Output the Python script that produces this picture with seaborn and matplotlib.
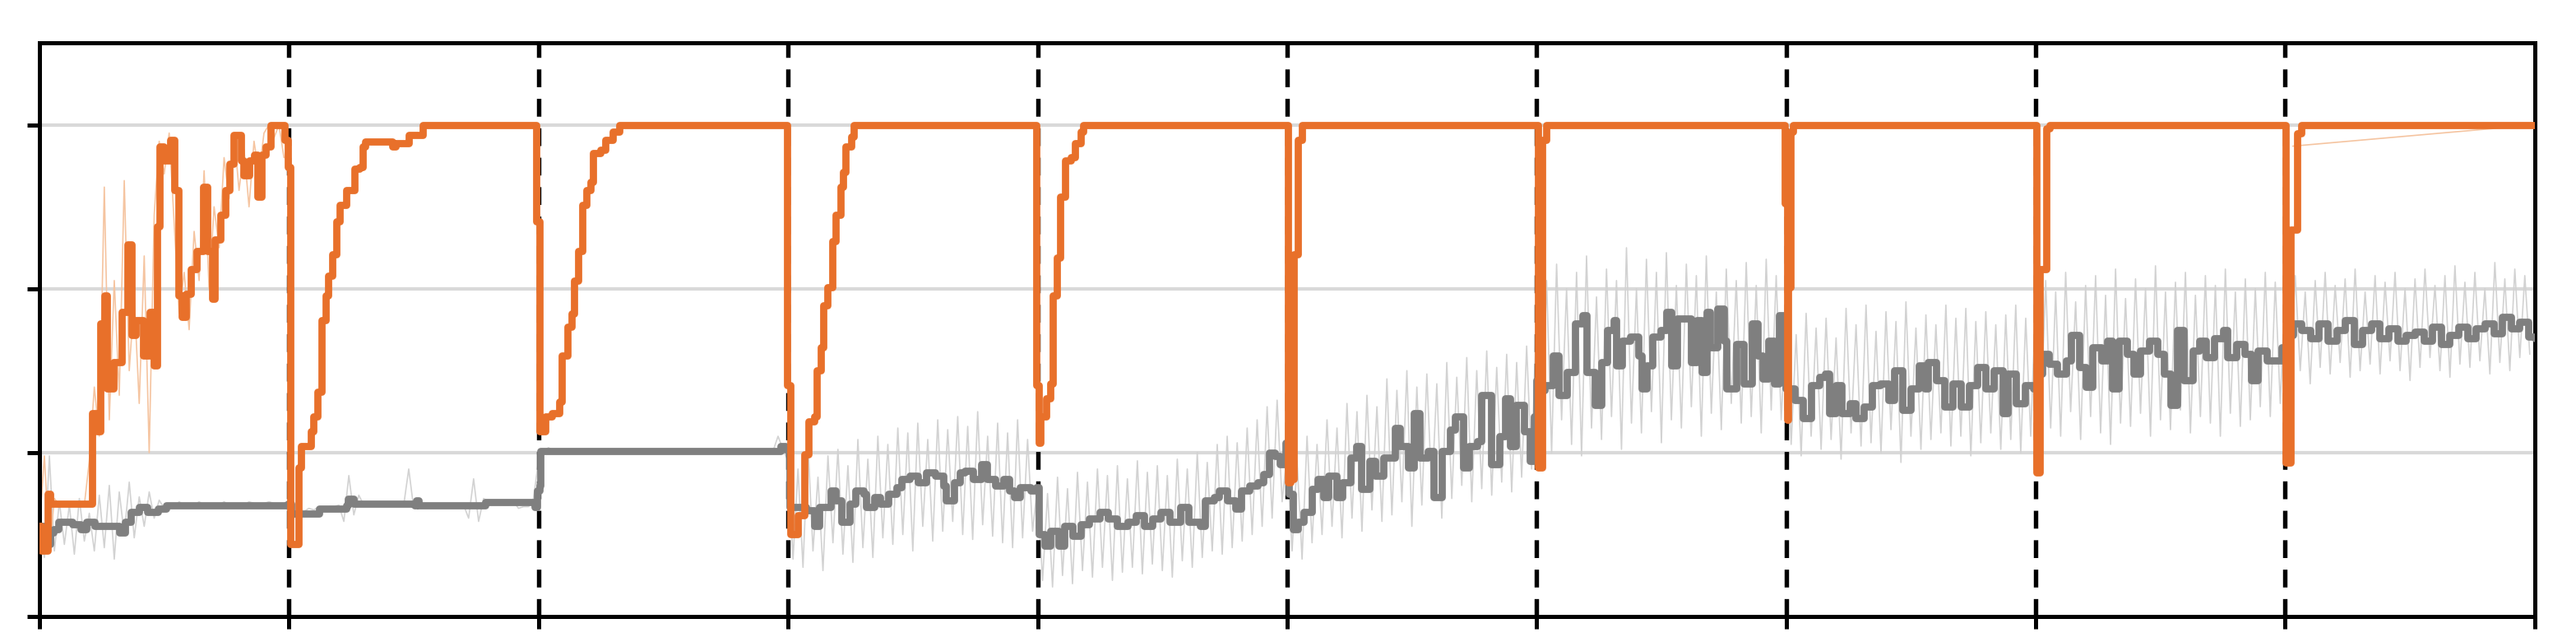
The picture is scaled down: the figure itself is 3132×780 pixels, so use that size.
import numpy as np
import pandas as pd
import matplotlib
matplotlib.use("Agg")
import matplotlib.pyplot as plt
import seaborn as sns

# ten tasks of 1000 steps each, task switches at every 1000 steps
task_len = 1000
n_tasks = 10
raw_every = 20

# orange: accuracy on the current task (step, value)
orange_acc = [
    (0, 0.55), (6, 0.40), (28, 0.40), (33, 0.75), (44, 0.69), (204, 0.69), (210, 1.24),
    (232, 1.13), (243, 1.79), (260, 1.96), (271, 1.39), (298, 1.55), (331, 1.86), (354, 2.27),
    (370, 1.72), (387, 1.81), (414, 1.59), (442, 1.86), (459, 1.53), (470, 2.38), (481, 2.87),
    (497, 2.78), (525, 2.91), (541, 2.60), (558, 1.96), (569, 1.83), (586, 1.97), (608, 2.12),
    (630, 2.23), (657, 2.62), (674, 2.23), (691, 1.94), (702, 2.30), (724, 2.45), (746, 2.60),
    (762, 2.76), (779, 2.94), (807, 2.78), (818, 2.69), (840, 2.78), (862, 2.82), (873, 2.56),
    (890, 2.82), (906, 2.87), (928, 3.00), (972, 3.00), (983, 2.91), (995, 2.74),
    (1005, 0.44), (1022, 0.44), (1038, 0.91), (1049, 1.04), (1087, 1.13), (1098, 1.22),
    (1115, 1.37), (1131, 1.81), (1148, 1.96), (1158, 2.08), (1175, 2.21), (1191, 2.41),
    (1202, 2.51), (1230, 2.60), (1262, 2.73), (1284, 2.74), (1295, 2.87), (1306, 2.90),
    (1415, 2.87), (1426, 2.89), (1481, 2.94), (1536, 3.00), (1984, 3.00), (1990, 2.41),
    (2005, 1.13), (2027, 1.22), (2055, 1.24), (2082, 1.31), (2093, 1.59), (2115, 1.77),
    (2132, 1.85), (2143, 2.05), (2159, 2.23), (2176, 2.51), (2192, 2.60), (2209, 2.65),
    (2220, 2.83), (2247, 2.85), (2269, 2.91), (2297, 2.96), (2324, 3.00), (2989, 3.00), (2995, 1.41),
    (3008, 0.50), (3020, 0.50), (3038, 0.62), (3066, 0.99), (3082, 1.19), (3104, 1.22),
    (3115, 1.50), (3132, 1.64), (3143, 1.90), (3159, 2.01), (3176, 2.29), (3192, 2.45),
    (3209, 2.62), (3220, 2.71), (3231, 2.87), (3253, 2.93), (3264, 3.00), (3989, 3.00), (3995, 1.41),
    (4005, 1.06), (4011, 1.22), (4033, 1.33), (4050, 1.42), (4061, 1.96), (4078, 2.19),
    (4089, 2.56), (4111, 2.78), (4133, 2.80), (4150, 2.89), (4172, 2.96), (4183, 3.00), (4990, 3.00),
    (5005, 0.82), (5014, 0.84), (5028, 2.21), (5044, 2.91), (5061, 3.00), (5989, 3.00),
    (6005, 0.91), (6016, 0.91), (6022, 2.91), (6039, 3.00), (6989, 3.00), (6995, 2.52),
    (7003, 1.20), (7006, 2.01), (7017, 2.96), (7028, 3.00), (7989, 3.00),
    (8003, 0.88), (8017, 2.12), (8044, 2.98), (8055, 3.00), (8989, 3.00),
    (9003, 0.94), (9021, 2.36), (9047, 2.95), (9065, 3.00), (10000, 3.00),
]

# orange raw (thin) pieces: first task and the tail of the last one
orange_raw_task0 = [
    0.55, 0.98, 0.40, 0.72, 0.68, 0.70, 0.68, 0.70, 0.69, 0.68, 0.95, 1.40, 1.10, 2.62, 1.20,
    2.05, 1.35, 2.66, 1.50, 1.95, 1.30, 2.20, 1.00, 2.45, 2.90, 2.70, 2.95, 2.40, 1.85, 2.10,
    1.75, 2.35, 2.05, 2.72, 2.00, 2.50, 2.25, 2.80, 2.55, 2.95, 2.60, 2.85, 2.50, 2.90, 2.70,
    2.95, 3.00, 2.92, 3.00, 2.80,
]
orange_raw_tail = [(9030, 2.87), (10000, 3.00)]

# gray: smoothed metric on all tasks (step, value)
gray_mean = [
    (0, 0.55), (22, 0.44), (44, 0.51), (55, 0.53), (77, 0.58), (110, 0.58), (133, 0.56),
    (166, 0.53), (188, 0.58), (221, 0.55), (254, 0.55), (298, 0.55), (320, 0.51), (343, 0.58),
    (365, 0.64), (398, 0.67), (431, 0.64), (475, 0.66), (508, 0.68), (750, 0.68), (995, 0.69),
    (1010, 0.63), (1120, 0.66), (1230, 0.68), (1235, 0.72), (1260, 0.69), (1503, 0.68),
    (1510, 0.71), (1520, 0.68), (1743, 0.68), (1787, 0.70), (1984, 0.67), (1995, 0.77),
    (2003, 0.80), (2008, 1.01), (2960, 1.01), (2970, 1.04), (2990, 1.02),
    (3005, 0.67), (3049, 0.67), (3071, 0.65), (3104, 0.55), (3126, 0.67), (3170, 0.77),
    (3192, 0.71), (3214, 0.58), (3247, 0.69), (3269, 0.77), (3302, 0.75), (3313, 0.67),
    (3346, 0.73), (3368, 0.69), (3401, 0.75), (3434, 0.79), (3456, 0.84), (3489, 0.86),
    (3522, 0.82), (3555, 0.88), (3588, 0.86), (3621, 0.80), (3632, 0.71), (3665, 0.82),
    (3687, 0.88), (3709, 0.89), (3742, 0.84), (3775, 0.93), (3797, 0.84), (3830, 0.80),
    (3863, 0.84), (3885, 0.77), (3907, 0.73), (3929, 0.79), (3973, 0.77), (3995, 0.79),
    (4006, 0.50), (4028, 0.43), (4050, 0.52), (4083, 0.43), (4106, 0.55), (4139, 0.49),
    (4172, 0.56), (4206, 0.60), (4250, 0.64), (4283, 0.60), (4317, 0.55), (4361, 0.58),
    (4394, 0.62), (4428, 0.55), (4461, 0.60), (4494, 0.64), (4528, 0.58), (4572, 0.67),
    (4606, 0.58), (4650, 0.55), (4672, 0.71), (4706, 0.73), (4728, 0.77), (4761, 0.71),
    (4794, 0.66), (4817, 0.77), (4850, 0.80), (4883, 0.82), (4906, 0.87), (4928, 1.00),
    (4950, 0.98), (4972, 0.93), (4994, 1.06),
    (5006, 0.75), (5022, 0.53), (5044, 0.58), (5066, 0.64), (5099, 0.78), (5122, 0.84),
    (5144, 0.73), (5166, 0.86), (5199, 0.73), (5221, 0.82), (5254, 0.97), (5276, 1.04),
    (5298, 0.78), (5331, 0.95), (5354, 0.86), (5387, 0.97), (5431, 1.15), (5453, 1.04),
    (5486, 0.91), (5508, 1.24), (5530, 0.97), (5564, 1.01), (5586, 0.73), (5619, 1.01),
    (5652, 1.14), (5674, 1.22), (5707, 0.91), (5729, 1.04), (5762, 1.07), (5779, 1.35),
    (5807, 1.35), (5818, 0.93), (5851, 1.10), (5873, 1.33), (5895, 1.04), (5917, 1.29),
    (5950, 1.13), (5972, 0.95), (5989, 1.22), (5998, 1.44),
    (6010, 1.38), (6033, 1.41), (6066, 1.59), (6088, 1.35), (6122, 1.49), (6155, 1.79),
    (6182, 1.84), (6199, 1.49), (6232, 1.29), (6260, 1.55), (6282, 1.75), (6309, 1.81),
    (6320, 1.53), (6343, 1.68), (6376, 1.71), (6409, 1.59), (6420, 1.39), (6442, 1.53),
    (6464, 1.71), (6497, 1.75), (6519, 1.86), (6541, 1.53), (6564, 1.82), (6597, 1.82),
    (6619, 1.55), (6641, 1.81), (6663, 1.49), (6680, 1.86), (6696, 1.64), (6724, 1.88),
    (6751, 1.68), (6762, 1.39), (6785, 1.39), (6801, 1.66), (6829, 1.42), (6862, 1.79),
    (6884, 1.59), (6906, 1.45), (6928, 1.68), (6950, 1.42), (6972, 1.84), (6989, 1.75), (6998, 1.39),
    (7011, 1.39), (7033, 1.32), (7067, 1.21), (7100, 1.41), (7133, 1.46), (7156, 1.48),
    (7172, 1.24), (7200, 1.41), (7222, 1.24), (7256, 1.30), (7278, 1.21), (7311, 1.28),
    (7344, 1.41), (7378, 1.42), (7411, 1.32), (7433, 1.50), (7467, 1.26), (7500, 1.39),
    (7533, 1.53), (7556, 1.39), (7567, 1.55), (7600, 1.44), (7633, 1.28), (7667, 1.42),
    (7700, 1.28), (7733, 1.41), (7767, 1.52), (7800, 1.39), (7833, 1.50), (7867, 1.24),
    (7889, 1.48), (7922, 1.30), (7956, 1.41), (7989, 1.39),
    (8010, 1.48), (8026, 1.60), (8052, 1.54), (8087, 1.48), (8122, 1.56), (8140, 1.72),
    (8175, 1.52), (8201, 1.40), (8227, 1.64), (8262, 1.56), (8288, 1.68), (8305, 1.39),
    (8332, 1.68), (8366, 1.60), (8393, 1.48), (8419, 1.62), (8454, 1.68), (8489, 1.60),
    (8515, 1.48), (8541, 1.29), (8567, 1.75), (8593, 1.44), (8628, 1.62), (8654, 1.68),
    (8681, 1.58), (8716, 1.70), (8750, 1.75), (8768, 1.58), (8803, 1.66), (8838, 1.60),
    (8864, 1.44), (8890, 1.62), (8925, 1.56), (8960, 1.56), (8986, 1.64),
    (9010, 1.72), (9030, 1.79), (9065, 1.75), (9100, 1.70), (9135, 1.79), (9170, 1.68),
    (9205, 1.75), (9240, 1.81), (9274, 1.66), (9309, 1.75), (9344, 1.79), (9379, 1.70),
    (9414, 1.76), (9449, 1.68), (9484, 1.72), (9519, 1.74), (9554, 1.68), (9589, 1.77),
    (9624, 1.66), (9659, 1.72), (9694, 1.77), (9729, 1.70), (9764, 1.76), (9799, 1.79),
    (9834, 1.73), (9869, 1.83), (9904, 1.76), (9939, 1.80), (9974, 1.71), (10000, 1.70),
]

# gray raw values, one every 20 steps, one list per task
gray_raw = [
    [0.55, 0.36, 0.98, 0.40, 0.70, 0.44, 0.68, 0.38, 0.72, 0.46, 0.63, 0.40, 0.74, 0.42, 0.80,
     0.35, 0.76, 0.50, 0.82, 0.48, 0.73, 0.55, 0.76, 0.60, 0.71, 0.66, 0.69, 0.67, 0.70, 0.68,
     0.69, 0.68, 0.70, 0.68, 0.69, 0.69, 0.68, 0.70, 0.68, 0.69, 0.69, 0.68, 0.70, 0.69, 0.68,
     0.69, 0.70, 0.69, 0.68, 0.69],
    [0.63, 0.60, 0.66, 0.64, 0.66, 0.65, 0.67, 0.66, 0.67, 0.67, 0.68, 0.58, 0.86, 0.62, 0.74,
     0.68, 0.69, 0.68, 0.68, 0.68, 0.68, 0.68, 0.68, 0.68, 0.90, 0.66, 0.68, 0.68, 0.68, 0.68,
     0.68, 0.68, 0.68, 0.68, 0.68, 0.68, 0.60, 0.84, 0.58, 0.72, 0.70, 0.69, 0.69, 0.68, 0.68,
     0.70, 0.66, 0.67, 0.67, 0.72],
    [0.95, 1.01, 1.03, 1.01, 1.01, 1.02, 1.01, 1.01, 1.01, 1.01, 1.01, 1.01, 1.01, 1.01, 1.01,
     1.01, 1.01, 1.01, 1.01, 1.01, 1.01, 1.01, 1.01, 1.01, 1.01, 1.01, 1.01, 1.01, 1.01, 1.01,
     1.01, 1.01, 1.01, 1.01, 1.01, 1.01, 1.01, 1.01, 1.01, 1.01, 1.01, 1.01, 1.01, 1.01, 1.01,
     1.01, 1.01, 1.01, 1.10, 1.02],
    [0.95, 0.35, 0.90, 0.30, 1.05, 0.40, 0.85, 0.28, 0.98, 0.45, 1.02, 0.38, 0.92, 0.33, 1.08,
     0.42, 0.96, 0.36, 1.10, 0.48, 1.05, 0.44, 1.15, 0.50, 1.12, 0.40, 1.18, 0.55, 1.08, 0.46,
     1.20, 0.52, 1.14, 0.58, 1.22, 0.50, 1.16, 0.47, 1.25, 0.56, 1.10, 0.49, 1.18, 0.45, 1.12,
     0.42, 1.20, 0.48, 1.08, 0.52],
    [0.80, 0.22, 0.75, 0.18, 0.85, 0.25, 0.78, 0.20, 0.88, 0.28, 0.82, 0.24, 0.90, 0.30, 0.86,
     0.22, 0.92, 0.27, 0.84, 0.30, 0.95, 0.26, 0.88, 0.32, 0.92, 0.28, 0.86, 0.24, 0.96, 0.34,
     0.90, 0.30, 1.00, 0.36, 0.94, 0.40, 1.05, 0.38, 1.10, 0.42, 1.06, 0.46, 1.15, 0.50, 1.20,
     0.55, 1.28, 0.60, 1.32, 0.70],
    [1.00, 0.40, 0.95, 0.35, 1.10, 0.45, 1.05, 0.50, 1.20, 0.55, 1.15, 0.48, 1.30, 0.60, 1.25,
     0.52, 1.35, 0.65, 1.28, 0.58, 1.45, 0.62, 1.38, 0.70, 1.50, 0.55, 1.40, 0.68, 1.48, 0.75,
     1.42, 0.60, 1.55, 0.72, 1.46, 0.80, 1.58, 0.70, 1.50, 0.78, 1.62, 0.74, 1.52, 0.82, 1.60,
     0.76, 1.55, 0.85, 1.65, 0.90],
    [1.90, 1.10, 2.05, 1.00, 2.15, 1.20, 2.00, 1.05, 2.10, 0.98, 2.20, 1.15, 1.95, 1.08, 2.12,
     1.22, 2.05, 1.02, 2.25, 1.18, 2.00, 1.12, 2.18, 1.25, 2.10, 1.06, 2.22, 1.20, 2.02, 1.15,
     2.15, 1.28, 2.08, 1.10, 2.20, 1.24, 1.98, 1.14, 2.12, 1.30, 2.05, 1.18, 2.16, 1.22, 2.02,
     1.12, 2.18, 1.26, 2.08, 1.20],
    [1.80, 1.05, 1.72, 0.98, 1.85, 1.10, 1.76, 1.02, 1.82, 1.08, 1.70, 0.96, 1.88, 1.12, 1.78,
     1.04, 1.90, 1.06, 1.74, 1.00, 1.86, 1.14, 1.80, 0.94, 1.92, 1.10, 1.76, 1.02, 1.84, 1.08,
     1.78, 1.12, 1.90, 1.04, 1.82, 1.10, 1.88, 0.98, 1.80, 1.06, 1.86, 1.12, 1.78, 1.02, 1.84,
     1.08, 1.90, 1.00, 1.82, 1.10],
    [1.95, 1.20, 2.05, 1.15, 1.98, 1.10, 2.10, 1.25, 1.92, 1.08, 2.02, 1.22, 2.08, 1.12, 1.96,
     1.05, 2.12, 1.18, 1.94, 1.16, 2.06, 1.24, 2.00, 1.10, 2.14, 1.20, 1.98, 1.14, 2.04, 1.26,
     2.10, 1.12, 1.96, 1.22, 2.08, 1.18, 2.02, 1.10, 2.12, 1.24, 1.98, 1.16, 2.06, 1.20, 2.00,
     1.28, 2.10, 1.22, 2.04, 1.30],
    [2.00, 1.45, 2.08, 1.50, 1.98, 1.42, 2.05, 1.52, 2.10, 1.48, 2.02, 1.55, 2.06, 1.46, 2.12,
     1.50, 1.98, 1.54, 2.08, 1.48, 2.04, 1.56, 2.10, 1.50, 2.00, 1.44, 2.06, 1.52, 2.12, 1.58,
     2.02, 1.50, 2.08, 1.46, 2.14, 1.54, 2.04, 1.52, 2.10, 1.56, 2.00, 1.48, 2.16, 1.55, 2.06,
     1.50, 2.12, 1.58, 2.08, 1.60],
]

# build tables
rows = []
for t, vals in enumerate(gray_raw):
    for i, v in enumerate(vals):
        rows.append({"step": t * task_len + i * raw_every, "value": v})
gray_raw_df = pd.DataFrame(rows)

orows = [{"step": i * raw_every, "value": v, "piece": 0} for i, v in enumerate(orange_raw_task0)]
orows += [{"step": s, "value": v, "piece": 1} for s, v in orange_raw_tail]
orange_raw_df = pd.DataFrame(orows)

gray_df = pd.DataFrame(gray_mean, columns=["step", "value"])
orange_df = pd.DataFrame(orange_acc, columns=["step", "value"])

# Plotting
sns.set_style("white")
fig = plt.figure(figsize=(10.44, 2.603), dpi=300)
ax = fig.add_axes([0.0153, 0.0397, 0.9687, 0.8924])

orange = "#e8702a"
gray = "#7f7f7f"

for y in [1, 2, 3]:
    ax.axhline(y, color="#d9d9d9", lw=1.0, zorder=0)

sns.lineplot(data=gray_raw_df, x="step", y="value", ax=ax, color="#d2d2d2", lw=0.4,
             estimator=None, sort=False, zorder=1)
sns.lineplot(data=orange_raw_df, x="step", y="value", units="piece", ax=ax, color="#f5c4a0",
             lw=0.4, estimator=None, sort=False, zorder=1)

for k in range(1, n_tasks):
    ax.axvline(k * task_len, color="black", lw=1.3, ls=(0, (4.0, 2.6)), zorder=2)

sns.lineplot(data=gray_df, x="step", y="value", ax=ax, color=gray, lw=2.1,
             drawstyle="steps-post", estimator=None, sort=False, zorder=3)
sns.lineplot(data=orange_df, x="step", y="value", ax=ax, color=orange, lw=2.1,
             drawstyle="steps-post", estimator=None, sort=False, zorder=4)

ax.set_xlim(0, n_tasks * task_len)
ax.set_ylim(0, 3.5)
ax.set_xticks(np.arange(0, n_tasks * task_len + 1, task_len))
ax.set_yticks([0, 1, 2, 3])
ax.set_xticklabels([])
ax.set_yticklabels([])
ax.set_xlabel("")
ax.set_ylabel("")
ax.tick_params(axis="both", direction="out", length=3.5, width=1.2, color="black",
               bottom=True, left=True)
for side in ax.spines.values():
    side.set_color("black")
    side.set_linewidth(1.2)

fig.savefig("out.png", dpi=300)
